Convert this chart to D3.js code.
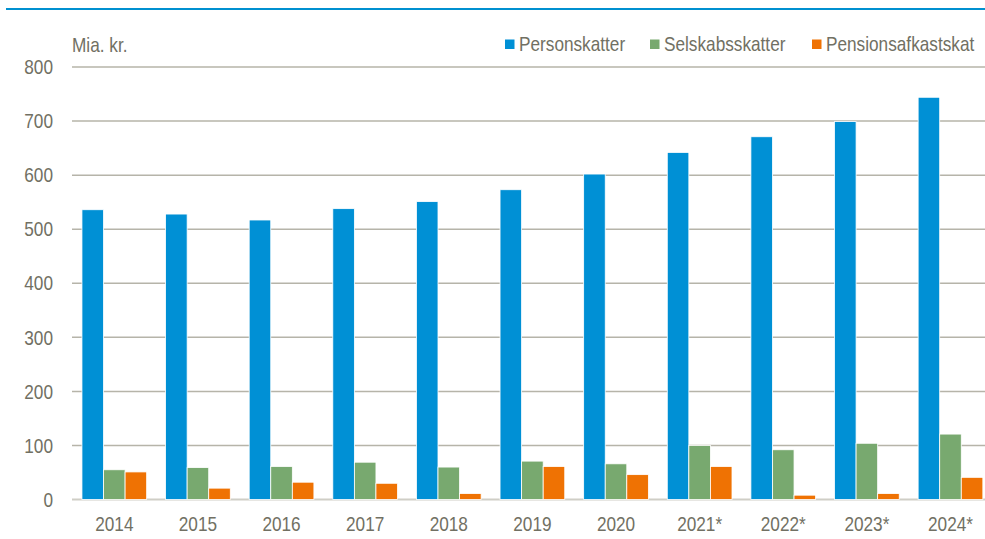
<!DOCTYPE html>
<html lang="en">
<head>
<meta charset="UTF-8">
<title>Skatter - Mia. kr.</title>
<script src="https://cdn.jsdelivr.net/npm/d3@7"></script>
<style>
  body { margin: 0; background: #fff; }
  text { font-family: "Liberation Sans Narrow", "Arial Narrow", "Liberation Sans", Arial, sans-serif; fill: #717063; }
</style>
</head>
<body>
<script>
// data
var years = ["2014", "2015", "2016", "2017", "2018", "2019", "2020", "2021*", "2022*", "2023*", "2024*"];
var seriesNames = ["Personskatter", "Selskabsskatter", "Pensionsafkastskat"];
var personskatter = [536, 528, 517, 538, 551, 573, 602, 642, 671, 699, 744];
var selskabsskatter = [55, 59, 61, 69, 60, 71, 66, 100, 92, 104, 121];
var pensionsafkastskat = [51, 21, 32, 30, 11, 61, 46, 61, 8, 11, 41];
var yTicks = [0, 100, 200, 300, 400, 500, 600, 700, 800];
var colors = ["#0090d5", "#78a96f", "#ef7203"];

var W = 985, H = 539;
var margin = { top: 67, left: 72.5, bottom: 39.5, right: -7.3 };
var narrowX = 0.82; // no condensed font installed, so squeeze the regular one

var svg = d3.select("body").append("svg")
  .attr("width", W)
  .attr("height", H);

// blue rule at the top
svg.append("line")
  .attr("x1", 6).attr("x2", W)
  .attr("y1", 9).attr("y2", 9)
  .attr("stroke", "#0090d0")
  .attr("stroke-width", 2.2);

var x = d3.scaleBand()
  .domain(years)
  .range([margin.left, W - margin.right])
  .paddingInner(0.226)
  .paddingOuter(0.113);

var xs = d3.scaleBand()
  .domain(seriesNames)
  .range([0, x.bandwidth()]);

var y = d3.scaleLinear()
  .domain([0, 800])
  .range([H - margin.bottom, margin.top]);

// gridlines
svg.append("g").selectAll("line")
  .data(yTicks)
  .enter().append("line")
  .attr("x1", 72).attr("x2", W)
  .attr("y1", function(d) { return y(d); })
  .attr("y2", function(d) { return y(d); })
  .attr("stroke", function(d) { return d === 0 ? "#cfcec6" : "#b6b4a9"; })
  .attr("stroke-width", function(d) { return d === 0 ? 2 : 1.5; });

function styleTicks(g) {
  g.select(".domain").remove();
  g.selectAll("text")
    .style("font-size", "21px")
    .style("fill", "#717063")
    .style("font-family", null)
    .attr("transform", "scale(" + narrowX + ",1)");
}

// y axis labels
svg.append("g")
  .attr("transform", "translate(53,0)")
  .call(d3.axisLeft(y).tickValues(yTicks).tickSize(0).tickPadding(0))
  .call(styleTicks);

// x axis labels
svg.append("g")
  .attr("transform", "translate(0," + (H - margin.bottom) + ")")
  .call(d3.axisBottom(x).tickSize(0).tickPadding(17))
  .call(styleTicks);

// bars
var rows = years.map(function(yr, i) {
  return { year: yr, values: [personskatter[i], selskabsskatter[i], pensionsafkastskat[i]] };
});

var groups = svg.append("g").selectAll("g")
  .data(rows)
  .enter().append("g")
  .attr("transform", function(d) { return "translate(" + x(d.year) + ",0)"; });

groups.selectAll("rect")
  .data(function(d) { return d.values.map(function(v, j) { return { name: seriesNames[j], value: v, c: colors[j] }; }); })
  .enter().append("rect")
  .attr("x", function(d) { return xs(d.name); })
  .attr("width", xs.bandwidth())
  .attr("y", function(d) { return y(d.value); })
  .attr("height", function(d) { return y(0) - y(d.value); })
  .attr("fill", function(d) { return d.c; })
  .attr("stroke", "#fff")
  .attr("stroke-width", 0.8);

// unit label
svg.append("g")
  .attr("transform", "translate(72,52) scale(" + narrowX + ",1)")
  .append("text")
  .style("font-size", "21px")
  .text("Mia. kr.");

// legend
var legendX = [505, 650, 812];
var legend = svg.append("g").selectAll("g")
  .data(seriesNames)
  .enter().append("g")
  .attr("transform", function(d, i) { return "translate(" + legendX[i] + ",0)"; });

legend.append("rect")
  .attr("x", 0).attr("y", 39.5)
  .attr("width", 9.5).attr("height", 9.5)
  .attr("fill", function(d, i) { return colors[i]; });

legend.append("g")
  .attr("transform", "translate(14,51) scale(" + narrowX + ",1)")
  .append("text")
  .style("font-size", "21px")
  .text(function(d) { return d; });
</script>
</body>
</html>
